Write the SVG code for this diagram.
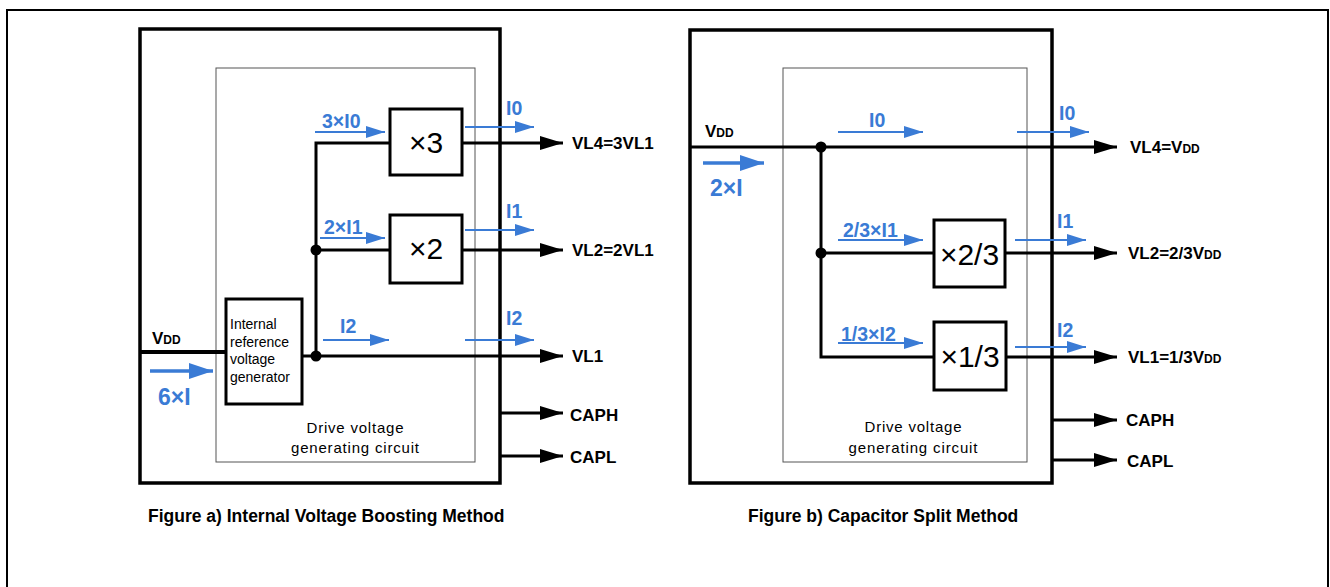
<svg xmlns="http://www.w3.org/2000/svg" width="1330" height="587" viewBox="0 0 1330 587">
<style>
.frame{fill:none;stroke:#000;stroke-width:2}
.outer{fill:none;stroke:#000;stroke-width:3.5}
.inner{fill:none;stroke:#555;stroke-width:1}
.box{fill:#fff;stroke:#000;stroke-width:3}
.wire{fill:none;stroke:#000;stroke-width:3}
.warr{fill:none;stroke:#000;stroke-width:3;marker-end:url(#ah)}
.barr{fill:none;stroke:#3a7bd5;stroke-width:2;marker-end:url(#bh)}
.bbig{fill:none;stroke:#3a7bd5;stroke-width:3.5;marker-end:url(#bb)}
.dot{fill:#000}
.lbl{font-family:"Liberation Sans",Arial,sans-serif;font-weight:bold;font-size:17px;fill:#000}
.blu{font-family:"Liberation Sans",Arial,sans-serif;font-weight:bold;font-size:19.5px;fill:#3a7bd5}
.big{font-family:"Liberation Sans",Arial,sans-serif;font-weight:bold;font-size:23px;fill:#3a7bd5}
.mul{font-family:"Liberation Sans",Arial,sans-serif;font-size:30px;fill:#000;text-anchor:middle}
.small{font-family:"Liberation Sans",Arial,sans-serif;font-size:14px;fill:#000}
.drv{font-family:"Liberation Sans",Arial,sans-serif;font-size:15px;fill:#000;text-anchor:middle}
.cap{font-family:"Liberation Sans",Arial,sans-serif;font-weight:bold;font-size:17.5px;fill:#000}
.sub{font-size:12px}
</style>
<defs>
<marker id="ah" markerUnits="userSpaceOnUse" markerWidth="23" markerHeight="14" refX="23" refY="7" orient="auto"><path d="M0,0 L23,7 L0,14 z" fill="#000"/></marker>
<marker id="bh" markerUnits="userSpaceOnUse" markerWidth="19" markerHeight="12" refX="19" refY="6" orient="auto"><path d="M0,0 L19,6 L0,12 z" fill="#3a7bd5"/></marker>
<marker id="bb" markerUnits="userSpaceOnUse" markerWidth="24" markerHeight="16" refX="24" refY="8" orient="auto"><path d="M0,0 L24,8 L0,16 z" fill="#3a7bd5"/></marker>
</defs>
<rect width="1330" height="587" fill="#fff"/>
<path class="frame" d="M7,587 V10 H1328 V587"/>

<!-- Figure a -->
<g id="figA-outer"><rect class="outer" x="140" y="29" width="360" height="454"/></g>
<g id="figA-inner"><rect class="inner" x="216" y="68" width="259" height="394"/>
<text class="drv" x="355" y="433" textLength="97" lengthAdjust="spacing">Drive voltage</text>
<text class="drv" x="355" y="453" textLength="128" lengthAdjust="spacing">generating circuit</text></g>
<g id="figA-connectors">
<path class="wire" d="M390,143 H316 V356"/>
<path class="wire" d="M316,250 H390"/>
<path class="wire" d="M140,352 H226" style="stroke-width:4"/>
<path class="warr" d="M302,356 H563"/>
<path class="warr" d="M462,143 H563"/>
<path class="warr" d="M462,250 H563"/>
<path class="warr" d="M500,413 H563"/>
<path class="warr" d="M500,456 H563"/>
<circle class="dot" cx="316" cy="250" r="5.5"/>
<circle class="dot" cx="316" cy="356" r="5.5"/>
<path class="barr" d="M315,132 H385"/>
<path class="barr" d="M320,238 H385"/>
<path class="barr" d="M323,340 H389"/>
<path class="barr" d="M465,127 H534"/>
<path class="barr" d="M465,230 H534"/>
<path class="barr" d="M465,340 H534"/>
<path class="bbig" d="M150,371 H213"/>
</g>
<g id="figA-x3"><rect class="box" x="390" y="109" width="72" height="66"/><text class="mul" x="426" y="153">×3</text></g>
<g id="figA-x2"><rect class="box" x="390" y="215" width="72" height="68"/><text class="mul" x="426" y="259">×2</text></g>
<g id="figA-ref"><rect class="box" x="226" y="299" width="76" height="105"/>
<text class="small" x="230" y="329">Internal</text>
<text class="small" x="230" y="347">reference</text>
<text class="small" x="230" y="364">voltage</text>
<text class="small" x="230" y="382">generator</text></g>
<g id="figA-labels">
<text class="lbl" x="152" y="344">V<tspan class="sub">DD</tspan></text>
<text class="big" x="158" y="405">6×I</text>
<text class="blu" x="322" y="128">3×I0</text>
<text class="blu" x="324" y="234">2×I1</text>
<text class="blu" x="340" y="333">I2</text>
<text class="blu" x="506" y="115">I0</text>
<text class="blu" x="506" y="218">I1</text>
<text class="blu" x="506" y="325">I2</text>
<text class="lbl" x="572" y="149">VL4=3VL1</text>
<text class="lbl" x="572" y="256">VL2=2VL1</text>
<text class="lbl" x="572" y="362">VL1</text>
<text class="lbl" x="570" y="421">CAPH</text>
<text class="lbl" x="570" y="463">CAPL</text>
<text class="cap" x="148" y="522">Figure a) Internal Voltage Boosting Method</text>
</g>

<!-- Figure b -->
<g id="figB-outer"><rect class="outer" x="690" y="30" width="362" height="453"/></g>
<g id="figB-inner"><rect class="inner" x="783" y="68" width="244" height="394"/>
<text class="drv" x="913" y="432" textLength="97" lengthAdjust="spacing">Drive voltage</text>
<text class="drv" x="913" y="453" textLength="129" lengthAdjust="spacing">generating circuit</text></g>
<g id="figB-connectors">
<path class="warr" d="M690,147 H1117"/>
<path class="wire" d="M821,147 V357 H934"/>
<path class="wire" d="M821,253 H934"/>
<path class="warr" d="M1005,253 H1117"/>
<path class="warr" d="M1006,357 H1117"/>
<path class="warr" d="M1052,420 H1117"/>
<path class="warr" d="M1052,460 H1117"/>
<circle class="dot" cx="821" cy="147" r="5.5"/>
<circle class="dot" cx="821" cy="253" r="5.5"/>
<path class="barr" d="M838,132 H923"/>
<path class="barr" d="M1017,132 H1089"/>
<path class="barr" d="M838,240 H923"/>
<path class="barr" d="M1015,240 H1086"/>
<path class="barr" d="M838,343 H923"/>
<path class="barr" d="M1015,347 H1086"/>
<path class="bbig" d="M703,163 H764"/>
</g>
<g id="figB-x23"><rect class="box" x="934" y="220" width="71" height="67"/><text class="mul" x="969.5" y="265" style="font-size:30px">×2/3</text></g>
<g id="figB-x13"><rect class="box" x="934" y="322" width="72" height="68"/><text class="mul" x="970" y="367" style="font-size:30px">×1/3</text></g>
<g id="figB-labels">
<text class="lbl" x="705" y="137">V<tspan class="sub">DD</tspan></text>
<text class="big" x="710" y="196">2×I</text>
<text class="blu" x="869" y="127">I0</text>
<text class="blu" x="1059" y="120">I0</text>
<text class="blu" x="843" y="237">2/3×I1</text>
<text class="blu" x="1057" y="228">I1</text>
<text class="blu" x="841" y="341">1/3×I2</text>
<text class="blu" x="1057" y="337">I2</text>
<text class="lbl" x="1130" y="153">VL4=V<tspan class="sub">DD</tspan></text>
<text class="lbl" x="1128" y="259">VL2=2/3V<tspan class="sub">DD</tspan></text>
<text class="lbl" x="1128" y="363">VL1=1/3V<tspan class="sub">DD</tspan></text>
<text class="lbl" x="1126" y="426">CAPH</text>
<text class="lbl" x="1127" y="467">CAPL</text>
<text class="cap" x="748" y="522">Figure b) Capacitor Split Method</text>
</g>
</svg>
